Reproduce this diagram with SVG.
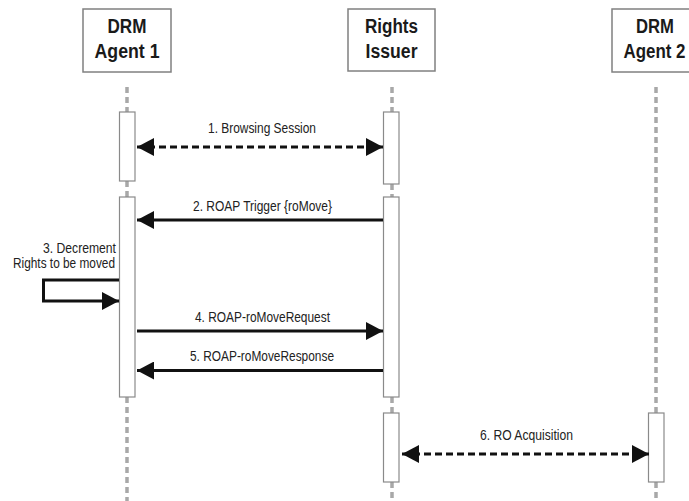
<svg xmlns="http://www.w3.org/2000/svg" width="689" height="501" viewBox="0 0 689 501">
<defs>
<style>
.hdr{fill:#fff;stroke:#808080;stroke-width:1.5}
.ht{font-family:"Liberation Sans",Arial,sans-serif;font-weight:bold;font-size:19.5px;fill:#1a1a1a;text-anchor:middle}
.life{stroke:#a8a8a8;stroke-width:3.5;stroke-dasharray:6 4;fill:none}
.act{fill:#fff;stroke:#8a8a8a;stroke-width:1.2}
.msg{stroke:#111;stroke-width:3;fill:none}
.dash{stroke-dasharray:7 4}
.lbl{font-family:"Liberation Sans",Arial,sans-serif;font-size:14.5px;fill:#222;text-anchor:middle}
</style>
<marker id="ah" viewBox="0 0 17 18" refX="17" refY="9" markerWidth="17" markerHeight="18" markerUnits="userSpaceOnUse" orient="auto-start-reverse">
<path d="M0,0 L17,9 L0,18 Z" fill="#111"/>
</marker>
</defs>
<rect width="689" height="501" fill="#fff"/>

<g id="lifelines">
<path class="life" d="M127,87 V112 M127,181 V197 M127,397 V501"/>
<path class="life" d="M392,87 V112 M392,184 V197 M392,397 V413 M392,482 V501"/>
<path class="life" d="M656,87 V413 M656,482 V501"/>
</g>

<g id="agent1">
<rect class="hdr" x="83" y="9" width="88" height="63"/>
<text class="ht" x="127" y="33" textLength="39" lengthAdjust="spacingAndGlyphs">DRM</text>
<text class="ht" x="127" y="58" textLength="65" lengthAdjust="spacingAndGlyphs">Agent 1</text>
<rect class="act" x="119.5" y="112" width="15.5" height="69"/>
<rect class="act" x="119.5" y="197" width="15.5" height="200"/>
</g>

<g id="rights-issuer">
<rect class="hdr" x="348" y="9" width="87" height="62"/>
<text class="ht" x="391.5" y="33" textLength="53" lengthAdjust="spacingAndGlyphs">Rights</text>
<text class="ht" x="391.5" y="58" textLength="52" lengthAdjust="spacingAndGlyphs">Issuer</text>
<rect class="act" x="383.5" y="112" width="15.5" height="72"/>
<rect class="act" x="383.5" y="197" width="15.5" height="200"/>
<rect class="act" x="383.5" y="413" width="15.5" height="69"/>
</g>

<g id="agent2">
<rect class="hdr" x="612" y="9" width="90" height="63"/>
<text class="ht" x="655" y="33" textLength="38" lengthAdjust="spacingAndGlyphs">DRM</text>
<text class="ht" x="654.5" y="58" textLength="62" lengthAdjust="spacingAndGlyphs">Agent 2</text>
<rect class="act" x="648.5" y="413" width="15.5" height="69"/>
</g>

<g id="connectors">
<line class="msg dash" x1="137" y1="147" x2="383" y2="147" marker-start="url(#ah)" marker-end="url(#ah)"/>
<text class="lbl" x="262" y="133" textLength="108" lengthAdjust="spacingAndGlyphs">1. Browsing Session</text>

<line class="msg" x1="383" y1="220" x2="137" y2="220" marker-end="url(#ah)"/>
<text class="lbl" x="262.5" y="211" textLength="139" lengthAdjust="spacingAndGlyphs">2. ROAP Trigger {roMove}</text>

<path class="msg" d="M119,280 H43.5 V301 H119" marker-end="url(#ah)"/>
<text class="lbl" x="116" y="253" style="text-anchor:end" textLength="73" lengthAdjust="spacingAndGlyphs">3. Decrement</text>
<text class="lbl" x="115" y="268" style="text-anchor:end" textLength="102" lengthAdjust="spacingAndGlyphs">Rights to be moved</text>

<line class="msg" x1="137" y1="331" x2="383" y2="331" marker-end="url(#ah)"/>
<text class="lbl" x="262.5" y="322" textLength="135" lengthAdjust="spacingAndGlyphs">4. ROAP-roMoveRequest</text>

<line class="msg" x1="383" y1="370.5" x2="137" y2="370.5" marker-end="url(#ah)"/>
<text class="lbl" x="262" y="361" textLength="144" lengthAdjust="spacingAndGlyphs">5. ROAP-roMoveResponse</text>

<line class="msg dash" x1="402" y1="454" x2="649" y2="454" marker-start="url(#ah)" marker-end="url(#ah)"/>
<text class="lbl" x="526.5" y="440" textLength="93" lengthAdjust="spacingAndGlyphs">6. RO Acquisition</text>
</g>
</svg>
